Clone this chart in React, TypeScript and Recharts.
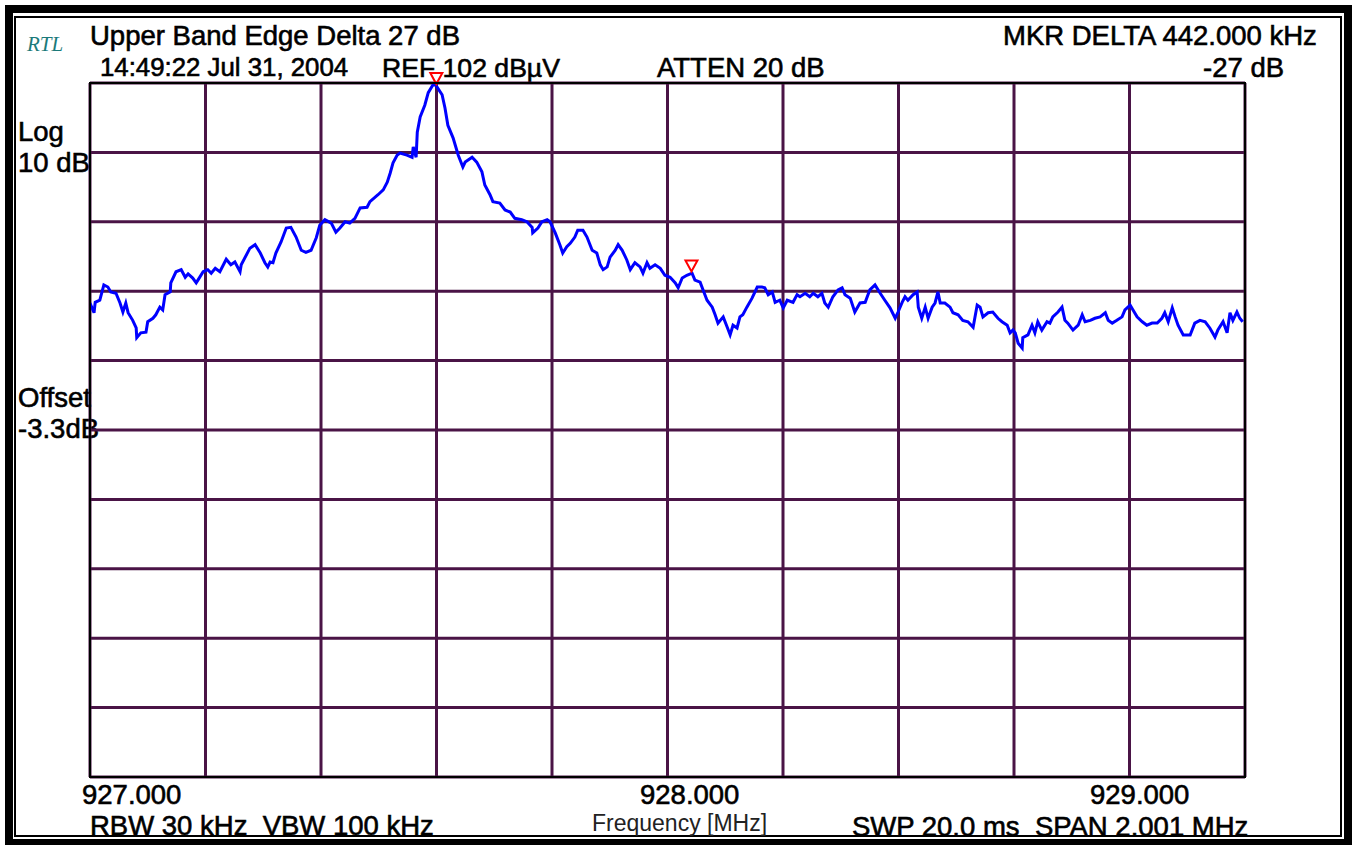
import React from 'react';
import { LineChart, Line, XAxis, YAxis, CartesianGrid, ReferenceDot } from 'recharts';

// Frequency (MHz) of each trace point
const freqMHz = [
  927.000, 927.007, 927.009, 927.017, 927.024, 927.031, 927.036, 927.045, 927.052, 927.057,
  927.062, 927.066, 927.074, 927.080, 927.081, 927.088, 927.097, 927.100, 927.109, 927.114,
  927.121, 927.126, 927.130, 927.139, 927.140, 927.149, 927.158, 927.165, 927.170, 927.178,
  927.184, 927.187, 927.196, 927.204, 927.210, 927.217, 927.225, 927.236, 927.244, 927.251,
  927.260, 927.262, 927.277, 927.286, 927.295, 927.303, 927.308, 927.312, 927.317, 927.322,
  927.331, 927.340, 927.348, 927.357, 927.366, 927.374, 927.383, 927.392, 927.398, 927.407,
  927.418, 927.426, 927.433, 927.442, 927.450, 927.459, 927.468, 927.480, 927.485, 927.499,
  927.508, 927.515, 927.520, 927.525, 927.532, 927.537, 927.549, 927.558, 927.560, 927.565,
  927.567, 927.572, 927.580, 927.586, 927.594, 927.599, 927.610, 927.615, 927.620, 927.629,
  927.638, 927.646, 927.650, 927.662, 927.670, 927.679, 927.684, 927.693, 927.698, 927.710,
  927.719, 927.728, 927.736, 927.748, 927.757, 927.766, 927.767, 927.776, 927.783, 927.792,
  927.797, 927.806, 927.814, 927.819, 927.826, 927.832, 927.840, 927.845, 927.854, 927.861,
  927.870, 927.878, 927.884, 927.889, 927.896, 927.901, 927.910, 927.915, 927.922, 927.930,
  927.936, 927.944, 927.953, 927.958, 927.965, 927.970, 927.979, 927.988, 927.996, 928.005,
  928.014, 928.019, 928.026, 928.034, 928.043, 928.048, 928.057, 928.062, 928.069, 928.078,
  928.083, 928.088, 928.097, 928.104, 928.109, 928.114, 928.121, 928.126, 928.131, 928.138,
  928.147, 928.156, 928.164, 928.169, 928.175, 928.182, 928.187, 928.195, 928.201, 928.208,
  928.218, 928.225, 928.230, 928.239, 928.247, 928.253, 928.261, 928.268, 928.273, 928.279,
  928.287, 928.296, 928.303, 928.308, 928.317, 928.325, 928.334, 928.343, 928.351, 928.360,
  928.369, 928.377, 928.386, 928.395, 928.400, 928.407, 928.412, 928.417, 928.426, 928.433,
  928.435, 928.441, 928.447, 928.452, 928.459, 928.464, 928.469, 928.473, 928.481, 928.490,
  928.495, 928.504, 928.512, 928.521, 928.530, 928.537, 928.542, 928.547, 928.556, 928.564,
  928.573, 928.580, 928.589, 928.594, 928.599, 928.603, 928.608, 928.615, 928.616, 928.625,
  928.632, 928.637, 928.642, 928.649, 928.658, 928.663, 928.668, 928.677, 928.684, 928.689,
  928.694, 928.703, 928.712, 928.719, 928.724, 928.733, 928.741, 928.750, 928.759, 928.764,
  928.771, 928.779, 928.788, 928.793, 928.802, 928.807, 928.814, 928.823, 928.831, 928.840,
  928.849, 928.857, 928.862, 928.868, 928.875, 928.880, 928.885, 928.894, 928.906, 928.914,
  928.923, 928.932, 928.940, 928.949, 928.954, 928.963, 928.970, 928.975, 928.980, 928.987,
  928.992, 928.997,
];

// Trace level (dBµV) at each point
const levelDbuV = [
  70.3, 68.9, 70.4, 70.7, 72.9, 72.6, 71.9, 71.7, 70.3, 69.0,
  70.3, 68.9, 67.8, 66.7, 65.3, 66.0, 66.1, 67.6, 68.1, 68.6,
  69.7, 69.3, 71.5, 71.9, 73.2, 74.8, 75.1, 74.0, 74.5, 73.9,
  73.2, 73.6, 74.8, 75.1, 74.6, 75.3, 74.8, 76.6, 75.8, 76.2,
  74.8, 75.8, 78.2, 78.7, 77.5, 76.1, 75.5, 76.2, 76.1, 77.5,
  79.1, 81.1, 81.2, 79.8, 77.9, 77.6, 77.9, 79.7, 81.5, 82.3,
  81.8, 80.5, 81.1, 82.0, 81.8, 82.5, 84.0, 84.1, 84.9, 85.9,
  86.6, 87.7, 89.0, 90.5, 91.6, 91.9, 91.6, 91.3, 92.8, 91.3,
  94.9, 97.1, 98.8, 100.6, 101.7, 101.7, 100.3, 98.4, 95.9, 94.1,
  91.6, 89.9, 90.6, 91.3, 90.6, 89.2, 87.3, 85.9, 84.9, 84.7,
  83.7, 83.4, 82.5, 82.3, 82.0, 81.2, 80.4, 81.1, 82.0, 82.3,
  82.0, 80.4, 78.7, 77.5, 78.4, 78.9, 79.8, 80.8, 80.8, 79.8,
  77.9, 77.5, 75.8, 75.1, 75.5, 76.9, 77.9, 78.7, 77.9, 76.5,
  75.1, 76.1, 75.5, 74.6, 76.1, 75.3, 75.8, 75.3, 74.3, 74.0,
  73.2, 72.5, 73.9, 74.3, 74.6, 73.6, 73.3, 72.2, 70.7, 69.7,
  68.6, 67.4, 68.3, 66.8, 65.7, 67.1, 66.7, 68.3, 68.6, 69.7,
  71.0, 72.6, 72.6, 72.5, 71.5, 71.9, 70.4, 70.7, 69.6, 70.7,
  70.4, 71.5, 71.2, 71.7, 71.2, 71.7, 71.2, 71.7, 70.3, 69.7,
  71.2, 72.2, 72.5, 71.5, 71.0, 69.0, 70.3, 70.4, 72.2, 72.9,
  71.7, 70.7, 69.6, 68.1, 69.0, 70.4, 71.2, 70.7, 71.5, 71.9,
  69.7, 68.1, 69.7, 68.1, 69.7, 70.3, 71.9, 70.3, 70.3, 69.7,
  68.9, 68.6, 67.8, 67.6, 66.8, 70.0, 69.7, 68.3, 68.9, 69.0,
  68.1, 67.6, 67.1, 66.0, 66.4, 66.0, 64.5, 63.8, 65.3, 65.7,
  67.1, 66.0, 67.6, 66.4, 67.6, 67.4, 68.3, 69.0, 69.7, 67.8,
  67.4, 66.4, 67.1, 68.6, 67.6, 67.8, 68.1, 68.3, 68.9, 67.8,
  67.4, 67.8, 68.3, 69.3, 70.0, 69.3, 68.3, 67.6, 67.1, 67.4,
  67.4, 68.1, 68.9, 67.6, 69.6, 68.3, 67.1, 65.7, 65.7, 67.4,
  67.8, 67.6, 66.7, 65.4, 66.4, 67.6, 66.0, 68.9, 67.8, 69.0,
  68.1, 67.6,
];

// Grid divisions: 10 divisions across 2.001 MHz span, 10 dB/div from REF 102 dBµV
const freqGridTicks = [927.0, 927.2001, 927.4002, 927.6003, 927.8004, 928.0005, 928.2006, 928.4007, 928.6008, 928.8009, 929.001];
const levelGridTicks = [2, 12, 22, 32, 42, 52, 62, 72, 82, 92, 102];

// Markers (reference and delta)
const markerFreq = [927.600, 928.042];
const markerLevel = [101.7, 74.7];

// Frequency tick labels printed under the graticule
const freqTickLabels = ['927.000', '928.000', '929.000'];

const data = freqMHz.map((f, i) => ({ f, db: levelDbuV[i] }));

const W = 1356;
const H = 845;
const PLOT = { left: 90, top: 83, right: 1245, bottom: 777 };

const font = '"Liberation Sans", Arial, Helvetica, sans-serif';

const Txt = ({ x, cy, size = 27.5, children, style = {} }: any) => (
  <div
    style={{
      position: 'absolute',
      left: x,
      top: cy - size / 2,
      fontFamily: font,
      fontSize: size,
      lineHeight: `${size}px`,
      whiteSpace: 'pre',
      color: '#000',
      WebkitTextStroke: '0.6px #000',
      ...style,
    }}
  >
    {children}
  </div>
);

const Triangle = (props: any) => {
  const { cx, cy } = props;
  if (cx == null || cy == null) return null;
  return (
    <path
      d={`M${cx - 6},${cy - 12} L${cx + 6},${cy - 12} L${cx},${cy - 1} Z`}
      fill="none"
      stroke="#ff0000"
      strokeWidth={2}
    />
  );
};

const tickLabelX = [82, 640, 1090];

export default function App() {
  return (
    <div style={{ position: 'absolute', left: 0, top: 0, width: W, height: H, background: '#fff', overflow: 'hidden' }}>
      {/* outer frame */}
      <div style={{ position: 'absolute', left: 5, top: 5, width: 1331, height: 826, border: '8px solid #000' }} />
      <div style={{ position: 'absolute', left: 14, top: 16, width: 1324, height: 817, border: '2px solid #000' }} />

      {/* header texts */}
      <Txt x={27} cy={44} size={21} style={{ fontFamily: '"Liberation Serif", "DejaVu Serif", serif', fontStyle: 'italic', color: '#1b7a7a', WebkitTextStroke: '0px' }}>RTL</Txt>
      <Txt x={90} cy={36}>Upper Band Edge Delta 27 dB</Txt>
      <Txt x={1003} cy={36}>MKR DELTA 442.000 kHz</Txt>
      <Txt x={100} cy={68} size={25.8}>14:49:22 Jul 31, 2004</Txt>
      <Txt x={382} cy={68} size={26.6}>REF 102 dBµV</Txt>
      <Txt x={657} cy={68}>ATTEN 20 dB</Txt>
      <Txt x={1203} cy={68}>-27 dB</Txt>

      {/* left side texts */}
      <Txt x={18} cy={132}>Log</Txt>
      <Txt x={18} cy={163}>10 dB</Txt>
      <Txt x={18} cy={398}>Offset</Txt>
      <Txt x={18} cy={429}>-3.3dB</Txt>

      {/* frequency tick labels */}
      {freqTickLabels.map((t, i) => (
        <Txt key={t} x={tickLabelX[i]} cy={795}>{t}</Txt>
      ))}

      {/* footer */}
      <Txt x={90} cy={826}>RBW 30 kHz  VBW 100 kHz</Txt>
      <Txt x={592} cy={823} size={23} style={{ color: '#222', WebkitTextStroke: '0px' }}>Frequency [MHz]</Txt>
      <Txt x={852} cy={827}>SWP 20.0 ms  SPAN 2.001 MHz</Txt>

      <div style={{ position: 'absolute', left: 0, top: 0 }}>
        <LineChart
          width={W}
          height={H}
          data={data}
          margin={{ left: PLOT.left, top: PLOT.top, right: W - PLOT.right, bottom: H - PLOT.bottom }}
        >
          <XAxis dataKey="f" type="number" domain={[927.0, 929.001]} ticks={freqGridTicks} hide allowDataOverflow />
          <YAxis type="number" domain={[2, 102]} ticks={levelGridTicks} hide allowDataOverflow />
          <CartesianGrid stroke="#4a1446" strokeWidth={3} fill="none" />
          <Line
            type="linear"
            dataKey="db"
            stroke="#0000ff"
            strokeWidth={3}
            dot={false}
            isAnimationActive={false}
          />
          {markerFreq.map((f, i) => (
            <ReferenceDot key={i} x={f} y={markerLevel[i]} shape={<Triangle />} ifOverflow="visible" />
          ))}
        </LineChart>
      </div>

      {/* plot border */}
      <div style={{ position: 'absolute', left: PLOT.left - 1, top: PLOT.top - 1, width: PLOT.right - PLOT.left - 2, height: PLOT.bottom - PLOT.top - 2, border: '2px solid #000', pointerEvents: 'none' }} />
    </div>
  );
}
